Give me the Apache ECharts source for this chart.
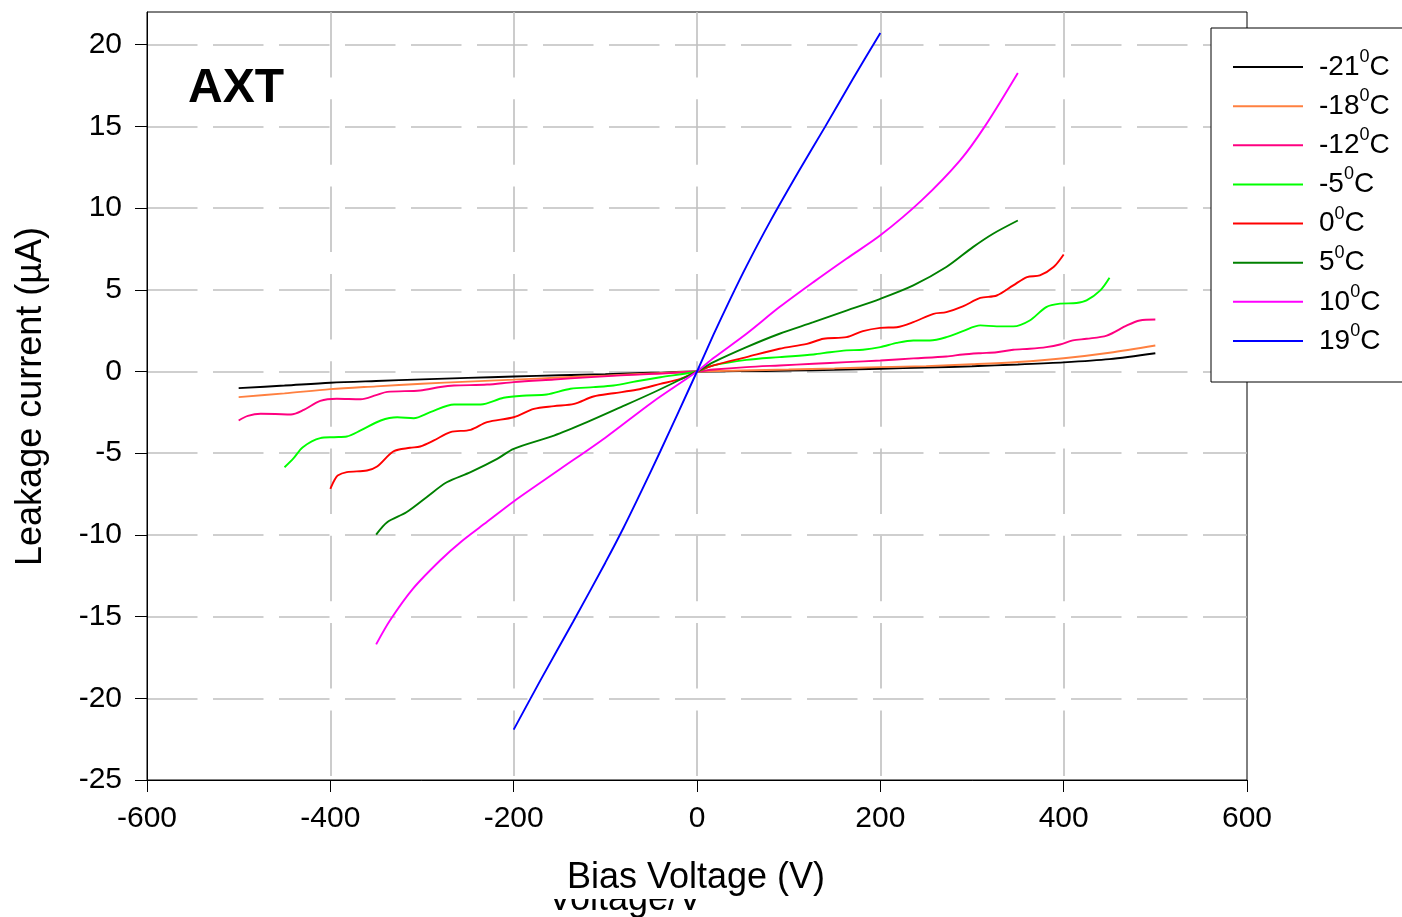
<!DOCTYPE html>
<html>
<head>
<meta charset="utf-8">
<script src="https://cdn.jsdelivr.net/npm/echarts@6/dist/echarts.min.js"></script>
<style>
html,body{margin:0;padding:0;background:#fff;}
#chart{width:1402px;height:917px;}
</style>
</head>
<body>
<div id="chart"></div>
<script>
// ---------- data ----------
const xTicks = [-600, -400, -200, 0, 200, 400, 600];
const yTicks = [-25, -20, -15, -10, -5, 0, 5, 10, 15, 20];
const seriesNames = ['-21', '-18', '-12', '-5', '0', '5', '10', '19'];
const seriesColors = ['#000000', '#ff8040', '#ff0080', '#00ff00', '#ff0000', '#008000', '#ff00ff', '#0000ff'];

// [bias voltage (V), leakage current (uA)]
const tM21 = [[-500,-1.02],[-450,-0.86],[-400,-0.69],[-350,-0.58],[-300,-0.48],[-250,-0.39],[-200,-0.31],[-150,-0.23],[-100,-0.16],[-50,-0.08],[0,0],[50,0.02],[100,0.05],[150,0.10],[200,0.17],[250,0.24],[300,0.32],[350,0.43],[400,0.56],[450,0.76],[500,1.12]];
const tM18 = [[-500,-1.57],[-450,-1.34],[-400,-1.08],[-350,-0.91],[-300,-0.75],[-250,-0.62],[-200,-0.5],[-150,-0.37],[-100,-0.25],[-50,-0.12],[0,0],[50,0.06],[100,0.12],[150,0.19],[200,0.27],[250,0.33],[300,0.44],[350,0.58],[400,0.81],[450,1.15],[500,1.59]];
const tM12 = [[-500,-3.0],[-490,-2.72],[-476,-2.59],[-460,-2.6],[-443,-2.63],[-429,-2.35],[-411,-1.8],[-393,-1.67],[-367,-1.70],[-350,-1.45],[-338,-1.25],[-302,-1.16],[-280,-0.95],[-265,-0.86],[-229,-0.80],[-200,-0.65],[-156,-0.49],[-120,-0.36],[-83,-0.24],[-47,-0.14],[0,0],[18,0.12],[54,0.27],[90,0.37],[127,0.47],[163,0.57],[200,0.67],[236,0.8],[272,0.92],[290,1.04],[309,1.12],[327,1.18],[345,1.33],[363,1.39],[381,1.49],[396,1.65],[410,1.9],[425,2.0],[447,2.2],[469,2.82],[483,3.12],[500,3.18]];
const tM5 = [[-450,-5.86],[-440,-5.3],[-430,-4.63],[-411,-4.08],[-396,-4.02],[-382,-3.98],[-367,-3.61],[-345,-3.0],[-327,-2.8],[-309,-2.86],[-291,-2.49],[-265,-2.02],[-236,-2.02],[-211,-1.61],[-186,-1.47],[-164,-1.41],[-138,-1.06],[-113,-0.96],[-91,-0.86],[-66,-0.6],[-40,-0.35],[0,0],[18,0.37],[54,0.71],[90,0.88],[127,1.04],[145,1.18],[163,1.29],[181,1.33],[200,1.49],[218,1.75],[236,1.9],[254,1.9],[272,2.1],[290,2.47],[309,2.82],[327,2.76],[345,2.76],[363,3.12],[381,3.94],[396,4.15],[414,4.19],[425,4.35],[440,4.96],[450,5.73]];
const tP0 = [[-400,-7.18],[-396,-6.7],[-392,-6.37],[-382,-6.16],[-360,-6.06],[-349,-5.82],[-331,-4.88],[-313,-4.67],[-302,-4.59],[-287,-4.22],[-269,-3.71],[-247,-3.57],[-229,-3.1],[-200,-2.8],[-178,-2.29],[-156,-2.12],[-134,-1.98],[-113,-1.53],[-91,-1.33],[-66,-1.12],[-40,-0.76],[-18,-0.45],[0,0],[18,0.37],[54,0.88],[90,1.39],[120,1.69],[138,2.0],[163,2.1],[181,2.47],[200,2.67],[218,2.71],[236,3.02],[258,3.53],[272,3.63],[290,3.98],[309,4.5],[327,4.65],[345,5.27],[360,5.78],[374,5.88],[389,6.39],[400,7.16]];
const tP5 = [[-350,-9.98],[-338,-9.22],[-317,-8.61],[-295,-7.69],[-273,-6.78],[-247,-6.16],[-218,-5.35],[-200,-4.73],[-156,-3.92],[-120,-3.1],[-83,-2.18],[-47,-1.27],[-18,-0.49],[0,0],[18,0.57],[54,1.49],[90,2.31],[127,3.02],[163,3.73],[200,4.45],[236,5.27],[272,6.39],[301,7.61],[323,8.43],[350,9.24]];
const tP10 = [[-350,-16.7],[-335,-15.24],[-310,-13.3],[-280,-11.55],[-257,-10.4],[-229,-9.2],[-200,-7.95],[-150,-6.0],[-100,-4.05],[-48,-1.85],[0,0],[18,0.82],[54,2.31],[90,3.94],[127,5.47],[163,6.9],[200,8.33],[245,10.47],[287,12.92],[314,15.0],[350,18.27]];
const tP19 = [[-200,-21.92],[-171,-18.92],[-135,-15.3],[-100,-11.7],[-80,-9.55],[-60,-7.25],[-40,-4.88],[-20,-2.45],[0,0],[18,2.25],[36,4.4],[54,6.45],[80,9.2],[111,12.25],[140,15.0],[170,17.9],[200,20.71]];

const seriesData = [tM21, tM18, tM12, tM5, tP0, tP5, tP10, tP19];

const xTitle = 'Bias Voltage (V)';
const xTitleOld = 'Voltage/V';
const yTitle = 'Leakage current (\u00b5A)';
const plotLabel = 'AXT';

// ---------- chart ----------
const FONT = "'Liberation Sans', Arial, Helvetica, sans-serif";
const chart = echarts.init(document.getElementById('chart'), null, {renderer: 'canvas'});

const series = seriesNames.map((name, i) => ({
  name: name,
  type: 'line',
  data: seriesData[i],
  symbol: 'none',
  showSymbol: false,
  smooth: 0.3,
  z: 3,
  lineStyle: {color: seriesColors[i], width: 1.9},
  itemStyle: {color: seriesColors[i]},
  emphasis: {disabled: true}
}));

const option = {
  animation: false,
  backgroundColor: '#ffffff',
  grid: {
    left: 147, right: 155, top: 12, bottom: 137,
    show: true, borderColor: '#000', borderWidth: 1, backgroundColor: 'transparent',
    containLabel: false, outerBoundsMode: 'none'
  },
  xAxis: {
    type: 'value',
    min: xTicks[0], max: xTicks[xTicks.length - 1], interval: 200,
    axisLine: {show: true, onZero: false, lineStyle: {color: '#000', width: 1}},
    axisTick: {show: true, inside: false, length: 12, lineStyle: {color: '#000', width: 1}},
    axisLabel: {show: true, margin: 24, color: '#000', fontSize: 30, fontFamily: FONT, showMinLabel: true, showMaxLabel: true, hideOverlap: false},
    splitLine: {show: true, showMinLine: false, showMaxLine: false, lineStyle: {color: '#c0c0c0', width: 1.6, type: [65.5, 21.8]}}
  },
  yAxis: {
    type: 'value',
    min: yTicks[0], max: 22, interval: 5,
    axisLine: {show: true, onZero: false, lineStyle: {color: '#000', width: 1}},
    axisTick: {show: true, inside: false, length: 12, customValues: yTicks, lineStyle: {color: '#000', width: 1}},
    axisLabel: {show: true, margin: 25, customValues: yTicks, color: '#000', fontSize: 30, fontFamily: FONT, padding: [0, 0, 7, 0], hideOverlap: false},
    splitLine: {show: true, showMinLine: false, lineStyle: {color: '#c0c0c0', width: 1.6, type: [50.5, 15.5]}}
  },
  legend: {
    show: true,
    orient: 'vertical',
    left: 1233, top: 48,
    padding: 0,
    itemWidth: 70, itemHeight: 14, itemGap: 1.14,
    z: 20,
    data: seriesNames,
    selectedMode: false,
    icon: 'path://M0,0 L70,0 L70,2 L0,2 Z',
    formatter: name => '{p|}{n|' + name + '}{s|0}{n|C}',
    textStyle: {
      color: '#000', fontFamily: FONT, fontSize: 28, lineHeight: 38,
      rich: {
        p: {width: 11},
        n: {fontSize: 28, lineHeight: 38, fontFamily: FONT, color: '#000'},
        s: {fontSize: 18, lineHeight: 17, fontFamily: FONT, color: '#000', verticalAlign: 'top'}
      }
    }
  },
  graphic: {
    elements: [
      {type: 'rect', z: 10, shape: {x: 1211, y: 28, width: 260, height: 354},
       style: {fill: '#fff', stroke: '#000', lineWidth: 1}},
      {type: 'text', z: 10, x: 188, y: 89,
       style: {text: plotLabel, font: 'bold 48px ' + FONT, fill: '#000', textAlign: 'left', textVerticalAlign: 'middle'}},
      {type: 'text', z: 10, x: 31, y: 396.5, rotation: Math.PI / 2,
       style: {text: yTitle, font: '36px ' + FONT, fill: '#000', textAlign: 'center', textVerticalAlign: 'middle'}},
      {type: 'text', z: 1, x: 548, y: 900,
       style: {text: xTitleOld, font: '36px ' + FONT, fill: '#000', textAlign: 'left', textVerticalAlign: 'middle'}},
      {type: 'rect', z: 2, shape: {x: 520, y: 850, width: 340, height: 49},
       style: {fill: '#fff'}},
      {type: 'text', z: 3, x: 696, y: 878,
       style: {text: xTitle, font: '36px ' + FONT, fill: '#000', textAlign: 'center', textVerticalAlign: 'middle'}}
    ]
  },
  series: series
};
chart.setOption(option);
</script>
</body>
</html>
